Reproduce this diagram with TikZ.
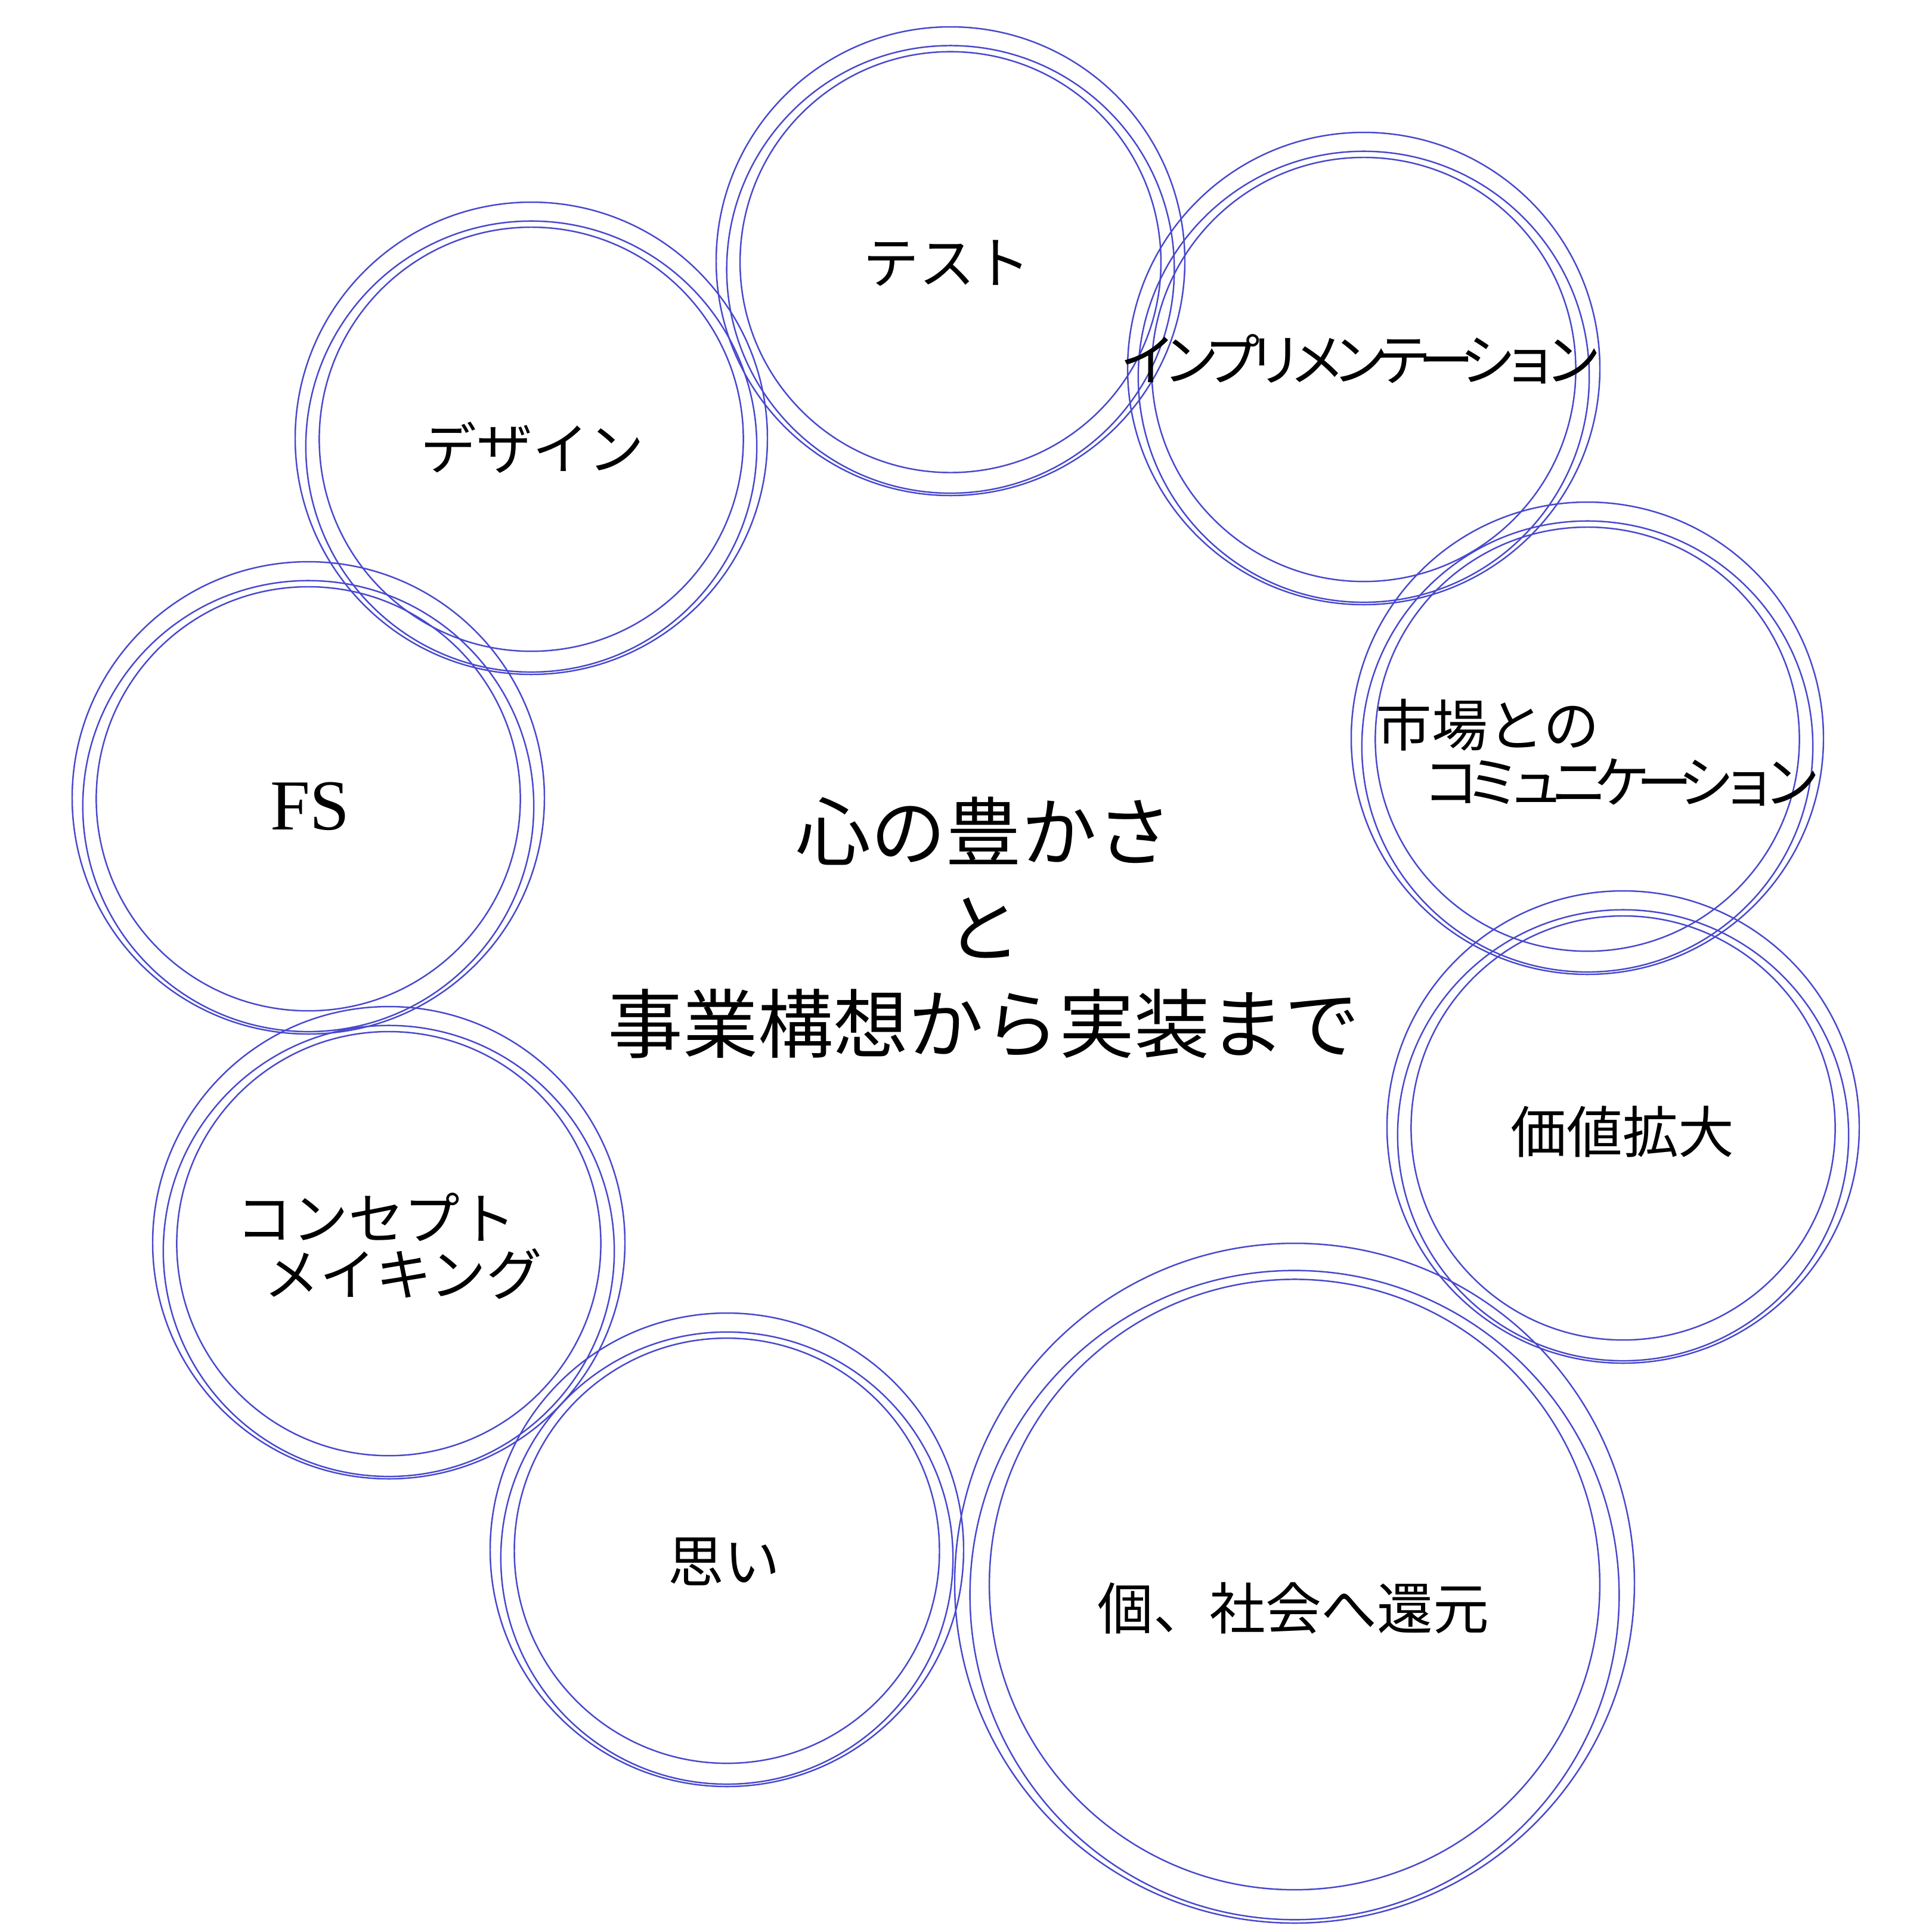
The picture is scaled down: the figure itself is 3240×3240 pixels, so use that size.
\documentclass[tikz,border=0pt]{standalone}
\usepackage{fontspec}
\setmainfont{Liberation Serif}
\newfontfamily\jp{Noto Sans CJK JP}
\newfontfamily\jpc[LetterSpace=-23.5]{Noto Sans CJK JP}
\definecolor{ringblue}{RGB}{72,72,205}
\newcommand\bubblerings[3]{%
  \draw[ring] (#1,#2) circle[radius=#3];
  \draw[ring] (#1,{#2+0.035*#3}) circle[radius={0.955*#3}];
  \draw[ring] (#1,{#2+0.004*#3}) circle[radius={0.898*#3}];
}
\begin{document}
\begin{tikzpicture}[x=0.006cm,y=-0.006cm,
  ring/.style={draw=ringblue,line width=0.42pt},
  lbl/.style={inner sep=0pt,font={\jp\fontsize{16}{19}\selectfont}},
  lblc/.style={inner sep=0pt,font={\jpc\fontsize{16}{19}\selectfont}},
  title/.style={inner sep=0pt,align=center,font={\jp\fontsize{21.5}{27.5}\selectfont}},
  fslbl/.style={inner sep=0pt,font={\fontsize{20.5}{24}\selectfont}}]
\useasboundingbox (0,0) rectangle (3240,3240);
% rings
\bubblerings{1594}{438}{393}
\bubblerings{2287}{618}{396}
\bubblerings{891}{735}{396}
\bubblerings{517}{1338}{396}
\bubblerings{2662}{1238}{396}
\bubblerings{2722}{1890}{396}
\bubblerings{2171}{2655}{570}
\bubblerings{1219}{2599}{397}
\bubblerings{652}{2084}{396}
% labels
\node[lbl] (test) at (1588,441) {テスト};
\node[lblc] (impl) at (2282,602) {インプリメンテーション};
\node[lbl] (design) at (893,751) {デザイン};
\node[fslbl] (fs) at (520,1352) {FS};
\node[lbl] (market1) at (2495,1216) {市場との};
\node[lblc] (market2) at (2719,1312) {コミュニケーション};
\node[lbl] (value) at (2721,1898) {価値拡大};
\node[lbl] (return) at (2169,2697) {個、社会へ還元};
\node[lbl] (thought) at (1214,2619) {思い};
\node[lbl] (concept1) at (631,2041) {コンセプト};
\node[lbl] (concept2) at (676,2136) {メイキング};
\node[title] (center) at (1650,1556) {心の豊かさ\\と\\事業構想から実装まで};
\end{tikzpicture}
\end{document}
